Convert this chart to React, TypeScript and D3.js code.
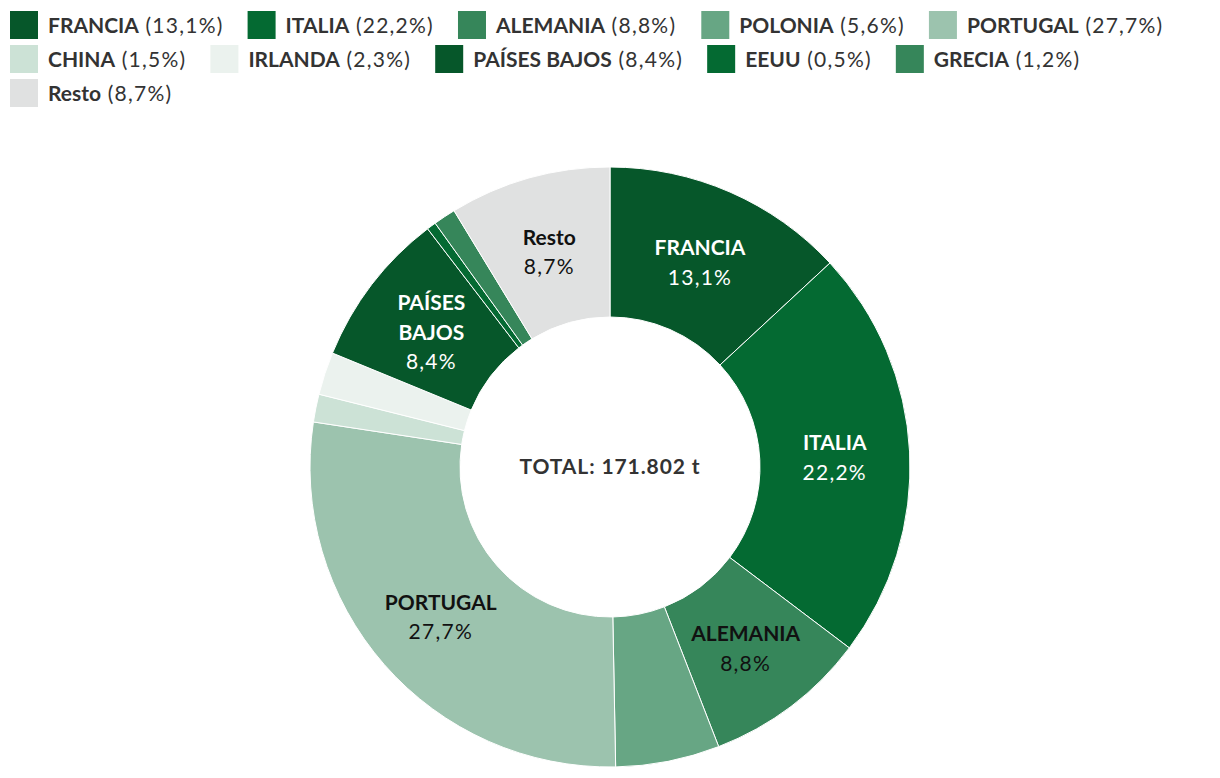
import React, { useEffect, useRef } from "react";
import * as d3 from "d3";

const countries = ["FRANCIA", "ITALIA", "ALEMANIA", "POLONIA", "PORTUGAL", "CHINA", "IRLANDA", "PAÍSES BAJOS", "EEUU", "GRECIA", "Resto"];
const shares = [13.1, 22.2, 8.8, 5.6, 27.7, 1.5, 2.3, 8.4, 0.5, 1.2, 8.7];
const colors = ["#06572a", "#046a32", "#36865a", "#67a684", "#9cc3ae", "#cce2d6", "#ebf2ee", "#06572a", "#046a32", "#36865a", "#e0e1e1"];
const sliceLabels: string[][] = [["FRANCIA"], ["ITALIA"], ["ALEMANIA"], [], ["PORTUGAL"], [], [], ["PAÍSES", "BAJOS"], [], [], ["Resto"]];
const sliceLabelDark = [false, false, true, false, true, false, false, false, false, false, true];
const legendRowSizes = [5, 5, 1];
const totalLabel = "TOTAL: 171.802 t";

const fmt = (v: number) => v.toFixed(1).replace(".", ",") + "%";

const W = 1220;
const H = 778;
const FONT = "Lato, 'Open Sans', sans-serif";
const FS = 21;
const REG_SPACING = 1.25;

export default function App() {
  const ref = useRef<SVGSVGElement | null>(null);

  useEffect(() => {
    const svg = d3.select(ref.current);
    svg.selectAll("*").remove();

    // Legend
    const legend = svg.append("g").attr("font-family", FONT).attr("font-size", FS).attr("fill", "#333");
    let idx = 0;
    legendRowSizes.forEach((n, row) => {
      let x = 10;
      const y = 11 + row * 34;
      for (let k = 0; k < n; k++, idx++) {
        const i = idx;
        const g = legend.append("g");
        g.append("rect").attr("x", x).attr("y", y).attr("width", 28).attr("height", 28).attr("fill", colors[i]);
        const t = g.append("text").attr("x", x + 38).attr("y", y + 15).attr("dy", "0.35em");
        t.append("tspan").attr("font-weight", 700).text(countries[i]);
        t.append("tspan").attr("font-weight", 400).attr("letter-spacing", REG_SPACING).text(" (" + fmt(shares[i]) + ")");
        const w = (t.node() as SVGTextElement).getBBox().width;
        x = x + 38 + w + 24;
      }
    });

    // Donut
    const cx = 610, cy = 467;
    const pie = d3.pie<number>().sort(null).value((d) => d).startAngle(0).endAngle(2 * Math.PI);
    const arcs = pie(shares);
    const arc = d3.arc<d3.PieArcDatum<number>>().innerRadius(150).outerRadius(300);
    const g = svg.append("g").attr("transform", `translate(${cx},${cy})`);
    g.selectAll("path")
      .data(arcs)
      .join("path")
      .attr("d", arc)
      .attr("fill", (_, i) => colors[i])
      .attr("stroke", "#fff")
      .attr("stroke-width", 1);

    const lh = 29.5;
    arcs.forEach((a, i) => {
      const lines = sliceLabels[i];
      if (!lines.length) return;
      const [lx, ly0] = arc.centroid(a);
      const ly = ly0 + 2;
      const all = lines.length + 1;
      const t = g.append("text")
        .attr("font-family", FONT)
        .attr("font-size", FS)
        .attr("text-anchor", "middle")
        .attr("fill", sliceLabelDark[i] ? "#111" : "#fff");
      lines.forEach((l, j) => {
        t.append("tspan").attr("x", lx).attr("y", ly + (j - (all - 1) / 2) * lh).attr("dy", "0.35em").attr("font-weight", 700).text(l);
      });
      t.append("tspan").attr("x", lx).attr("y", ly + (lines.length - (all - 1) / 2) * lh).attr("dy", "0.35em").attr("font-weight", 400).attr("letter-spacing", REG_SPACING).text(fmt(shares[i]));
    });

    g.append("text")
      .attr("font-family", FONT)
      .attr("font-size", FS)
      .attr("font-weight", 700)
      .attr("fill", "#333")
      .attr("text-anchor", "middle")
      .attr("letter-spacing", 0.9)
      .attr("dy", "0.35em")
      .text(totalLabel);
  }, []);

  return (
    <svg ref={ref} width={W} height={H} style={{ position: "absolute", left: 0, top: 0, background: "#fff" }} />
  );
}
